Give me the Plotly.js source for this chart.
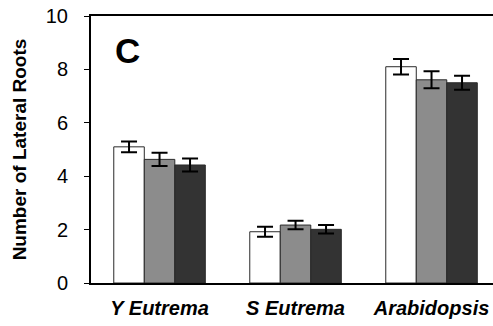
<!DOCTYPE html>
<html><head><meta charset="utf-8">
<script src="https://cdn.plot.ly/plotly-3.0.1.min.js"></script>
<style>html,body{margin:0;padding:0;background:#fff}#chart{width:493px;height:326px}</style>
</head><body><div id="chart"></div>
<script>
var categories = ["Y Eutrema", "S Eutrema", "Arabidopsis"];
var series1 = [5.10, 1.92, 8.10];
var series1Err = [0.20, 0.19, 0.29];
var series2 = [4.63, 2.17, 7.61];
var series2Err = [0.25, 0.16, 0.32];
var series3 = [4.42, 2.01, 7.50];
var series3Err = [0.24, 0.16, 0.26];
var yTicks = [0, 2, 4, 6, 8, 10];
var panelLabel = "C";

function bar(y, err, fill) {
  return {
    type: "bar", x: categories, y: y,
    marker: {color: fill, line: {color: "#2a2a2a", width: 1}},
    error_y: {type: "data", array: err, visible: true, color: "#000", thickness: 2, width: 8},
    hoverinfo: "skip"
  };
}
var data = [bar(series1, series1Err, "#ffffff"), bar(series2, series2Err, "#8c8c8c"), bar(series3, series3Err, "#333333")];
var layout = {
  width: 493, height: 326,
  margin: {l: 91, r: 0, t: 16, b: 43},
  paper_bgcolor: "#fff", plot_bgcolor: "#fff",
  showlegend: false, barmode: "group", bargap: 0.327, bargroupgap: 0,
  font: {family: "Liberation Sans, Arial, sans-serif", color: "#000"},
  xaxis: {
    range: [-0.504, 2.452], showline: true, linecolor: "#000", linewidth: 2, mirror: true,
    ticks: "", showgrid: false, zeroline: false, fixedrange: true,
    tickfont: {size: 20, family: "Liberation Sans, Arial, sans-serif", weight: "bold", style: "italic"},
    ticklabelstandoff: 6
  },
  yaxis: {
    range: [0, 10], tickvals: yTicks, ticktext: yTicks.map(String),
    showline: true, linecolor: "#000", linewidth: 2, ticks: "outside", ticklen: 5, tickwidth: 1, tickcolor: "#000",
    showgrid: false, zeroline: false, fixedrange: true,
    tickfont: {size: 20}, ticklabelstandoff: 12,
    title: {text: "Number of Lateral Roots", font: {size: 19, weight: "bold"}, standoff: 14}
  },
  annotations: [{text: panelLabel, xref: "paper", yref: "paper", x: 0.092, y: 0.87, showarrow: false,
    font: {size: 35, weight: "bold"}, xanchor: "center", yanchor: "middle"}]
};
Plotly.newPlot("chart", data, layout, {displayModeBar: false, staticPlot: true});
</script></body></html>
